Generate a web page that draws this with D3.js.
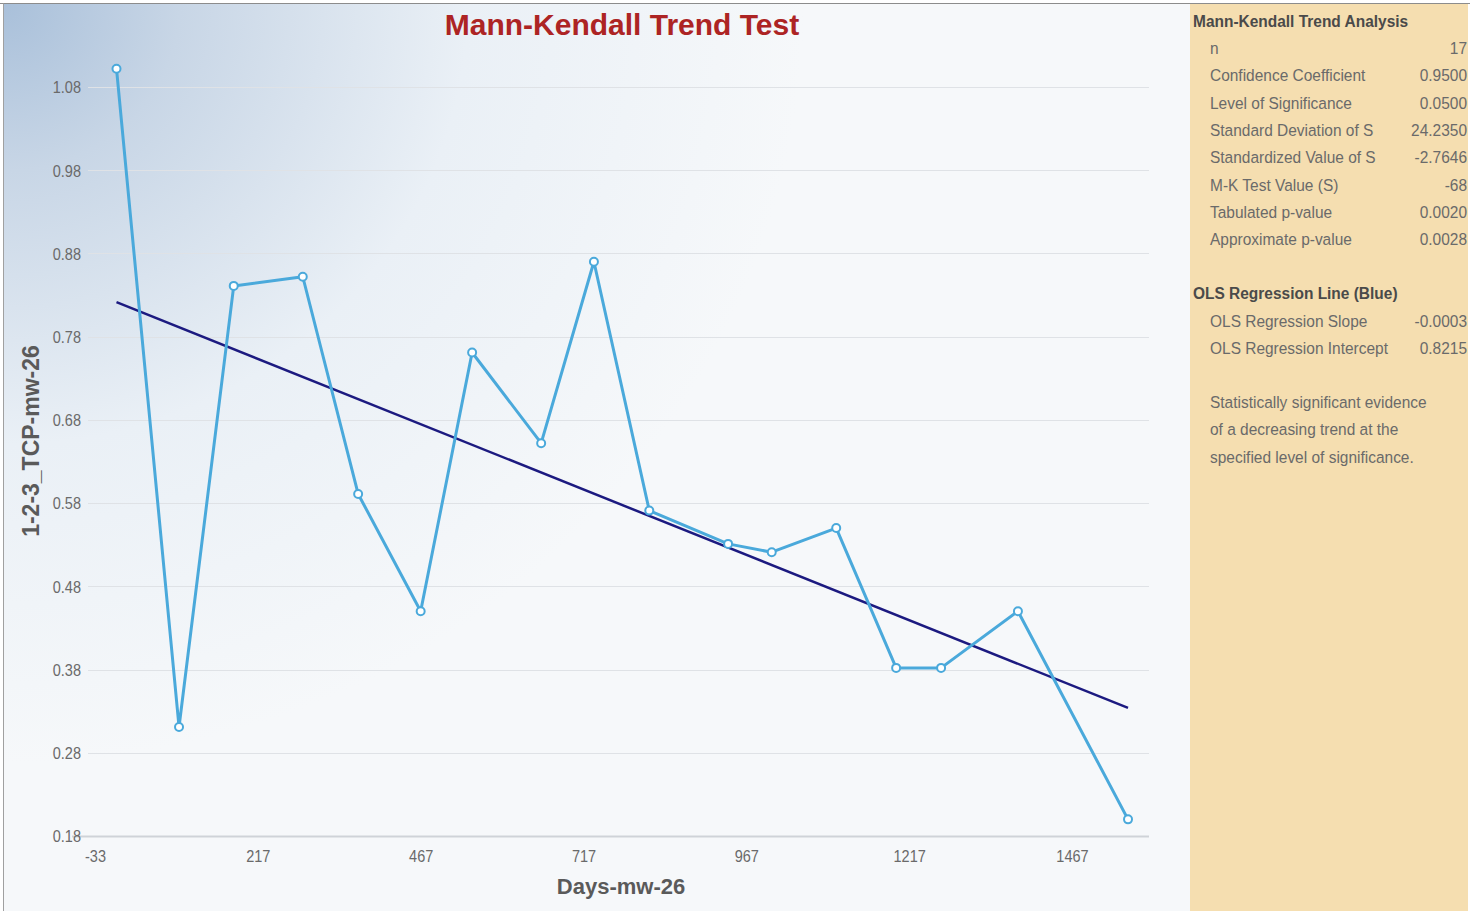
<!DOCTYPE html>
<html>
<head>
<meta charset="utf-8">
<script src="https://cdn.jsdelivr.net/npm/d3@7"></script>
<style>
  html, body { margin: 0; padding: 0; background: #ffffff; }
  svg { display: block; }
</style>
</head>
<body>
<svg id="chart" width="1470" height="911"></svg>
<script>
// Sampling days and measured concentrations (mw-26)
const days = [0, 96, 180, 286, 371, 467, 546, 652, 733, 818, 939, 1006, 1105, 1197, 1266, 1384, 1553];
const values = [1.102, 0.311, 0.841, 0.852, 0.591, 0.450, 0.761, 0.652, 0.870, 0.571, 0.531, 0.521, 0.550, 0.382, 0.382, 0.450, 0.200];

// Axis ticks
const xTicks = [-33, 217, 467, 717, 967, 1217, 1467];
const yTicks = [0.18, 0.28, 0.38, 0.48, 0.58, 0.68, 0.78, 0.88, 0.98, 1.08];

// OLS regression line parameters
const olsSlope = -0.000314;
const olsIntercept = 0.8215;

// Mann-Kendall summary rows
const mkLabels = ["n", "Confidence Coefficient", "Level of Significance", "Standard Deviation of S",
  "Standardized Value of S", "M-K Test Value (S)", "Tabulated p-value", "Approximate p-value"];
const mkValues = ["17", "0.9500", "0.0500", "24.2350", "-2.7646", "-68", "0.0020", "0.0028"];
const olsLabels = ["OLS Regression Slope", "OLS Regression Intercept"];
const olsValues = [olsSlope.toFixed(4), olsIntercept.toFixed(4)];
const conclusion = ["Statistically significant evidence", "of a decreasing trend at the", "specified level of significance."];

const svg = d3.select("#chart");
const W = 1470, H = 911;
const narrow = 0.88;      // horizontal squeeze for axis tick labels
const panelNarrow = 0.91; // horizontal squeeze for the statistics panel

const defs = svg.append("defs");
const bg = defs.append("radialGradient").attr("id", "bgGrad")
  .attr("gradientUnits", "userSpaceOnUse")
  .attr("cx", 4).attr("cy", 4).attr("r", 800)
  .attr("gradientTransform", "translate(4,4) scale(1,0.95) translate(-4,-4)");
bg.append("stop").attr("offset", "0%").attr("stop-color", "#a9c0da");
bg.append("stop").attr("offset", "22%").attr("stop-color", "#c8d6e6");
bg.append("stop").attr("offset", "58%").attr("stop-color", "#eaf0f6");
bg.append("stop").attr("offset", "100%").attr("stop-color", "#f6f8fa");

// Plot background
svg.append("rect").attr("x", 4).attr("y", 4).attr("width", 1186).attr("height", H - 4)
  .attr("fill", "url(#bgGrad)");

// Statistics panel
svg.append("rect").attr("x", 1190).attr("y", 4).attr("width", 278).attr("height", H - 4)
  .attr("fill", "#f5deb0");

// Outer frame
svg.append("line").attr("x1", 0).attr("x2", W).attr("y1", 3.5).attr("y2", 3.5)
  .attr("stroke", "#8c8c8c").attr("stroke-width", 1);
svg.append("line").attr("x1", 3.5).attr("x2", 3.5).attr("y1", 3.5).attr("y2", H)
  .attr("stroke", "#a0a0a0").attr("stroke-width", 1);

const x = d3.scaleLinear().domain([-33, 1467]).range([95, 1072]);
const y = d3.scaleLinear().domain([0.18, 1.08]).range([836, 87]);

const font = "Arial, 'Liberation Sans', sans-serif";

// Horizontal gridlines
svg.append("g").selectAll("line").data(yTicks).join("line")
  .attr("x1", d => d === 0.18 ? 72 : 88).attr("x2", 1149)
  .attr("y1", d => Math.round(y(d)) + 0.5).attr("y2", d => Math.round(y(d)) + 0.5)
  .attr("stroke", d => d === 0.18 ? "#cfd3d8" : "#dfe2e6")
  .attr("stroke-width", d => d === 0.18 ? 2 : 1);

// Y axis labels
const yAxis = d3.axisLeft(y).tickValues(yTicks).tickFormat(d3.format(".2f")).tickSize(0).tickPadding(0);
const gy = svg.append("g").attr("transform", "translate(81,0)").call(yAxis);
gy.select(".domain").remove();
gy.selectAll("text").attr("font-family", font).attr("font-size", 16.5)
  .attr("fill", "#6a6a6a").attr("dy", "0.35em").attr("transform", `scale(${narrow},1)`);

// X axis labels
const xAxis = d3.axisBottom(x).tickValues(xTicks).tickFormat(d => String(d)).tickSize(0).tickPadding(0);
const gx = svg.append("g").attr("transform", "translate(0,850)").call(xAxis);
gx.select(".domain").remove();
gx.selectAll("text").attr("font-family", font).attr("font-size", 16.5)
  .attr("fill", "#6a6a6a").attr("dy", "0.71em").attr("transform", `scale(${narrow},1)`);

// Titles
svg.append("text").attr("x", 622).attr("y", 35).attr("text-anchor", "middle")
  .attr("font-family", font).attr("font-weight", "bold")
  .attr("font-size", 30).attr("fill", "#ad2424").text("Mann-Kendall Trend Test");

svg.append("text").attr("x", 621).attr("y", 894).attr("text-anchor", "middle")
  .attr("font-family", font).attr("font-weight", "bold")
  .attr("font-size", 22).attr("fill", "#5a5a5a").text("Days-mw-26");

svg.append("text").attr("transform", "translate(39,441) rotate(-90)").attr("text-anchor", "middle")
  .attr("font-family", font).attr("font-weight", "bold")
  .attr("font-size", 23).attr("fill", "#5a5a5a").text("1-2-3_TCP-mw-26");

// OLS regression line across the sampled range
const xMin = d3.min(days), xMax = d3.max(days);
const reg = [xMin, xMax].map(d => ({ d, v: olsIntercept + olsSlope * d }));
svg.append("path").datum(reg)
  .attr("d", d3.line().x(p => x(p.d)).y(p => y(p.v)))
  .attr("fill", "none").attr("stroke", "#1c1a80").attr("stroke-width", 2.5);

// Data series
const pts = days.map((d, i) => ({ d, v: values[i] }));
svg.append("path").datum(pts)
  .attr("d", d3.line().x(p => x(p.d)).y(p => y(p.v)))
  .attr("fill", "none").attr("stroke", "#4aa9db").attr("stroke-width", 3)
  .attr("stroke-linejoin", "round");
svg.append("g").selectAll("circle").data(pts).join("circle")
  .attr("cx", p => x(p.d)).attr("cy", p => y(p.v)).attr("r", 4)
  .attr("fill", "#ffffff").attr("stroke", "#4aa9db").attr("stroke-width", 2);

// Statistics panel text (condensed)
const panel = svg.append("g");
function panelText(sel, px, py, anchor, bold) {
  return sel.attr("transform", `translate(${px},${py}) scale(${panelNarrow},1)`)
    .attr("text-anchor", anchor)
    .attr("font-family", font)
    .attr("font-size", 17)
    .attr("font-weight", bold ? "bold" : "normal")
    .attr("fill", bold ? "#4a4a4a" : "#6a6a6a");
}
const rowY = i => 54 + i * 27.3;

panelText(panel.append("text"), 1193, 27, "start", true).text("Mann-Kendall Trend Analysis");
mkLabels.forEach((t, i) => panelText(panel.append("text"), 1210, rowY(i), "start", false).text(t));
mkValues.forEach((t, i) => panelText(panel.append("text"), 1467, rowY(i), "end", false).text(t));

panelText(panel.append("text"), 1193, 299, "start", true).text("OLS Regression Line (Blue)");
olsLabels.forEach((t, i) => panelText(panel.append("text"), 1210, 327 + i * 27.3, "start", false).text(t));
olsValues.forEach((t, i) => panelText(panel.append("text"), 1467, 327 + i * 27.3, "end", false).text(t));

conclusion.forEach((t, i) => panelText(panel.append("text"), 1210, 408 + i * 27.3, "start", false).text(t));
</script>
</body>
</html>
